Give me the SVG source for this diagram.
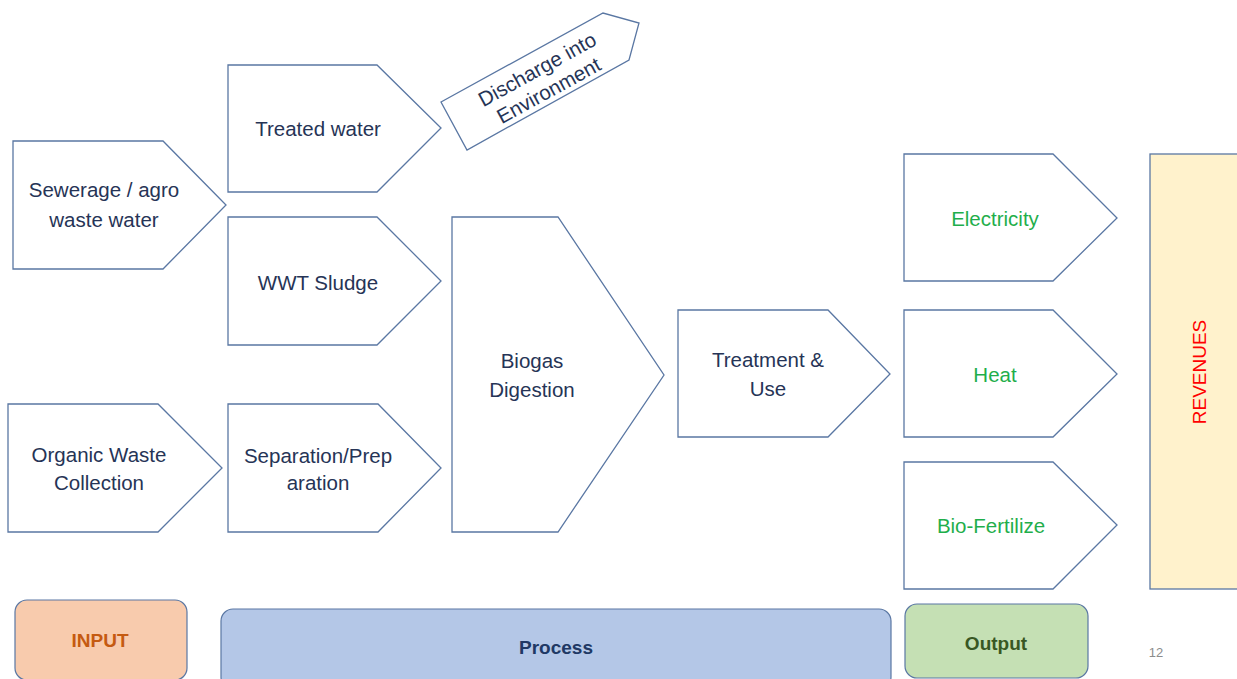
<svg xmlns="http://www.w3.org/2000/svg" width="1237" height="679" viewBox="0 0 1237 679">
<style>
.shape{fill:#ffffff;stroke:#5a77a3;stroke-width:1.3}
.t{font-family:"Liberation Sans",Arial,sans-serif;font-size:20.5px;fill:#263456;text-anchor:middle}
.g{fill:#1fae4b}
.lbl{font-family:"Liberation Sans",Arial,sans-serif;font-size:19px;font-weight:bold;text-anchor:middle}
</style>
<rect width="1237" height="679" fill="#ffffff"/>
<g id="connectors"></g>
<g id="sewerage">
<polygon class="shape" points="13,141 163,141 226,205 163,269 13,269"/>
<text class="t" x="104" y="197">Sewerage / agro</text>
<text class="t" x="104" y="227">waste water</text>
</g>
<g id="treated-water">
<polygon class="shape" points="228,65 377,65 441,128 377,192 228,192"/>
<text class="t" x="318" y="136">Treated water</text>
</g>
<g id="discharge">
<polygon class="shape" points="441,102 603,13 639,23 629,60 467,150"/>
<g transform="translate(543,80) rotate(-28.8)">
<text class="t" x="0" y="-5">Discharge into</text>
<text class="t" x="0" y="19">Environment</text>
</g>
</g>
<g id="wwt-sludge">
<polygon class="shape" points="228,217 377,217 441,281 377,345 228,345"/>
<text class="t" x="318" y="290">WWT Sludge</text>
</g>
<g id="organic-waste">
<polygon class="shape" points="8,404 158,404 222,468 158,532 8,532"/>
<text class="t" x="99" y="462">Organic Waste</text>
<text class="t" x="99" y="490">Collection</text>
</g>
<g id="separation">
<polygon class="shape" points="228,404 378,404 441,468 378,532 228,532"/>
<text class="t" x="318" y="463">Separation/Prep</text>
<text class="t" x="318" y="490">aration</text>
</g>
<g id="biogas">
<polygon class="shape" points="452,217 558,217 664,375 558,532 452,532"/>
<text class="t" x="532" y="368">Biogas</text>
<text class="t" x="532" y="397">Digestion</text>
</g>
<g id="treatment">
<polygon class="shape" points="678,310 828,310 890,374 828,437 678,437"/>
<text class="t" x="768" y="367">Treatment &amp;</text>
<text class="t" x="768" y="396">Use</text>
</g>
<g id="electricity">
<polygon class="shape" points="904,154 1053,154 1117,218 1053,281 904,281"/>
<text class="t g" x="995" y="226">Electricity</text>
</g>
<g id="heat">
<polygon class="shape" points="904,310 1053,310 1117,374 1053,437 904,437"/>
<text class="t g" x="995" y="382">Heat</text>
</g>
<g id="bio-fertilize">
<polygon class="shape" points="904,462 1053,462 1117,525 1053,589 904,589"/>
<text class="t g" x="991" y="533">Bio-Fertilize</text>
</g>
<g id="revenues">
<rect x="1150" y="154" width="95" height="435" fill="#fff2cc" stroke="#5a77a3" stroke-width="1.3"/>
<text transform="translate(1206,372) rotate(-90)" x="0" y="0" font-family="Liberation Sans,Arial,sans-serif" font-size="19" fill="#ff0000" text-anchor="middle">REVENUES</text>
</g>
<g id="input">
<rect x="15" y="600" width="172" height="80" rx="12" fill="#f8cbad" stroke="#5a77a3" stroke-width="1.2"/>
<text class="lbl" x="100" y="647" fill="#c55a11">INPUT</text>
</g>
<g id="process">
<rect x="221" y="609" width="670" height="80" rx="12" fill="#b4c7e7" stroke="#5a77a3" stroke-width="1.2"/>
<text class="lbl" x="556" y="654" fill="#203864">Process</text>
</g>
<g id="output">
<rect x="905" y="604" width="183" height="74" rx="12" fill="#c5e0b4" stroke="#5a77a3" stroke-width="1.2"/>
<text class="lbl" x="996" y="650" fill="#385723">Output</text>
</g>
<text x="1156" y="657" font-family="Liberation Sans,Arial,sans-serif" font-size="13" fill="#8c8c8c" text-anchor="middle">12</text>
</svg>
